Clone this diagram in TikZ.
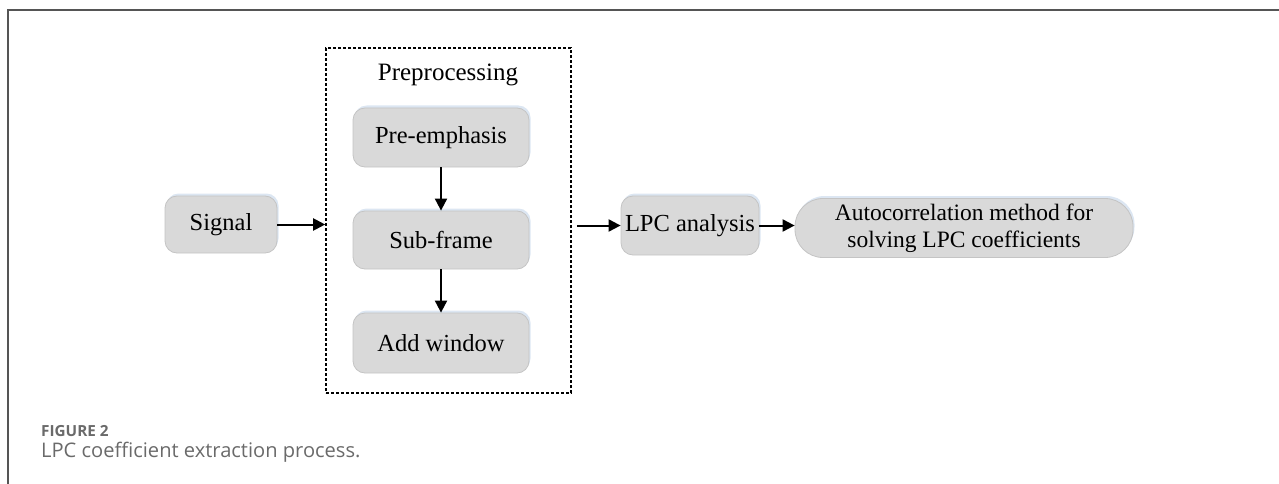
\documentclass[tikz,border=0pt]{standalone}
\usepackage{fontspec}
\setmainfont{Liberation Serif}
\newfontfamily\capfont{Open Sans}
\usetikzlibrary{arrows.meta,shadows}
\definecolor{boxfill}{HTML}{D9D9D9}
\definecolor{boxline}{HTML}{C4C4C4}
\definecolor{shadowc}{HTML}{DCE6F2}
\definecolor{framec}{HTML}{555555}
\definecolor{capc}{HTML}{6A6A6A}
\tikzset{
  procbox/.style={draw=boxline, fill=boxfill, line width=0.8pt, rounded corners=12pt,
    inner sep=0pt, align=center, font=\fontsize{24.5}{27}\selectfont,
    drop shadow={fill=shadowc, opacity=1, shadow xshift=1.5pt, shadow yshift=2.5pt}},
  flow/.style={line width=2pt, -{Triangle[length=12pt,width=12pt]}},
}
\begin{document}
\begin{tikzpicture}[x=1pt,y=-1pt]
\useasboundingbox (0,0) rectangle (1279,484);
\draw[framec, line width=2pt] (8,484) -- (8,10) -- (1279,10);
\node[draw, line width=1.6pt, dash pattern=on 3pt off 2pt, minimum width=245pt, minimum height=345pt, inner sep=0pt] (pre) at (448.5,220.5) {};
\node[font=\fontsize{25}{27}\selectfont] (prelab) at (448,75) {Preprocessing};
\node[procbox, minimum width=112pt, minimum height=57pt] (sig) at (221,224.5) {Signal};
\node[procbox, minimum width=176pt, minimum height=59pt] (pe) at (441,137.5) {Pre-emphasis};
\node[procbox, minimum width=176pt, minimum height=58pt] (sf) at (441,240) {Sub-frame};
\node[procbox, minimum width=176pt, minimum height=60pt] (aw) at (441,343) {Add window};
\node[procbox, minimum width=138pt, minimum height=59pt] (lpc) at (690,225.5) {LPC analysis};
\node[procbox, rounded corners=28pt, minimum width=338pt, minimum height=59pt, font=\fontsize{23.5}{27}\selectfont] (auto) at (964,228) {Autocorrelation method for\\solving LPC coefficients};
\draw[flow] (sig.east) -- (sig.east -| pre.west);
\draw[flow] (pe.south) -- (sf.north);
\draw[flow] (sf.south) -- (aw.north);
\coordinate (preout) at ([xshift=5pt]pre.east |- lpc.west);
\draw[flow] (preout) -- (lpc.west);
\draw[flow] (lpc.east) -- (auto.west |- lpc.east);
\node[anchor=west, font={\fontsize{15.3}{17}\selectfont\capfont\bfseries}, text=capc, inner sep=0pt] (figlab) at (41,431) {FIGURE 2};
\node[anchor=west, font={\fontsize{20.1}{22}\selectfont\capfont}, text=capc, inner sep=0pt] (cap) at (41,452) {LPC coefficient extraction process.};
\end{tikzpicture}
\end{document}
